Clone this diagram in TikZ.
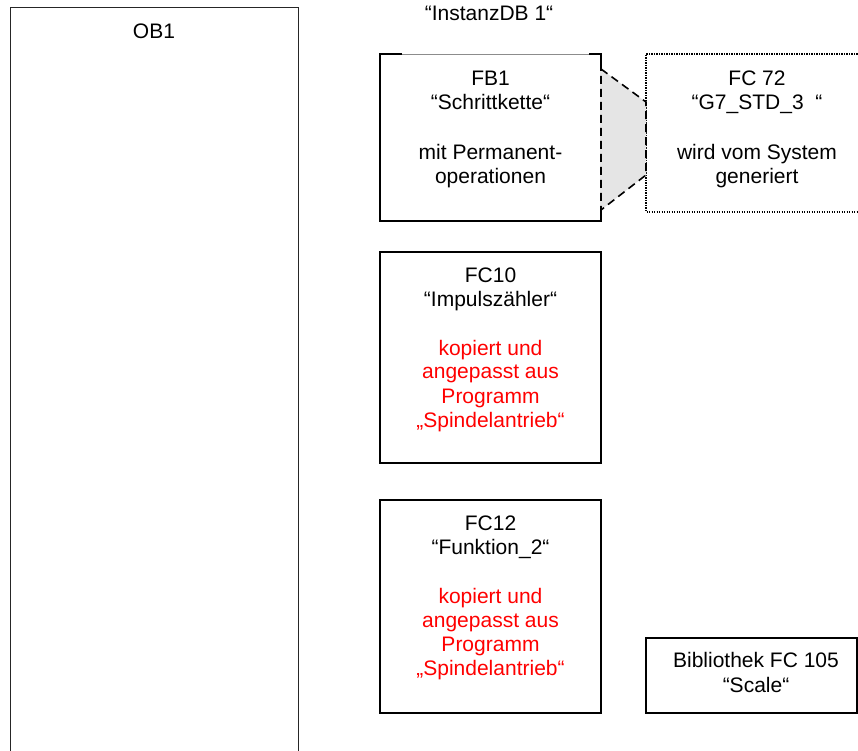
\documentclass[tikz,border=0pt]{standalone}
\usepackage{fontspec}
\setmainfont{Liberation Sans}
\begin{document}
\begin{tikzpicture}[x=1pt,y=-1pt,
  lbl/.style={anchor=base, inner sep=0pt, font=\fontsize{21}{24}\selectfont},
  redlbl/.style={lbl, text=red},
  boxshape/.style={minimum width=#1, inner sep=0pt, outer sep=0pt},
  boxline/.style={draw=black, line width=1.5pt},
  dashline/.style={draw=black, line width=1.6pt, dash pattern=on 8pt off 5pt},
  dotline/.style={draw=black, line width=1.1pt, dash pattern=on 1.2pt off 1.3pt},
]
\useasboundingbox (0,0) rectangle (858,751);
\fill[white] (0,0) rectangle (858,751);

% OB1 (runs past the bottom edge)
\coordinate (ob1bl) at (10,765);
\coordinate (ob1tl) at (10,8);
\coordinate (ob1tr) at (298,8);
\coordinate (ob1br) at (298,765);
\draw[line width=1pt, black!85] (ob1bl) -- (ob1tl) -- (ob1tr) -- (ob1br);
\node[lbl] (ob1t) at (154,39) {OB1};

% InstanzDB label
\node[lbl] (inst) at (489,21) {“InstanzDB 1“};

% FB1
\node[boxshape=221pt, minimum height=167pt] (fb1) at (490.5,137.5) {};
\coordinate (fb1a) at ([xshift=22pt]fb1.north west);
\coordinate (fb1b) at ([xshift=-12pt]fb1.north east);
\draw[line width=0.6pt, black!45] (fb1a) -- (fb1b);
\draw[boxline] (fb1a) -- (fb1.north west) -- (fb1.south west) -- (fb1.south east) -- (fb1.north east) -- (fb1b);
\node[lbl] (fb1l1) at (490.5,86) {FB1};
\node[lbl] (fb1l2) at (490.5,109.5) {“Schrittkette“};
\node[lbl] (fb1l3) at (490.5,160) {mit Permanent-};
\node[lbl] (fb1l4) at (490.5,183.5) {operationen};

% FC72 (dotted, runs past the right edge)
\coordinate (fc72tr) at (870,54);
\coordinate (fc72tl) at (646,54);
\coordinate (fc72bl) at (646,212);
\coordinate (fc72br) at (870,212);
\draw[dotline] (fc72tr) -- (fc72tl) -- (fc72bl) -- (fc72br);
\node[lbl] (fc72l1) at (757,86) {FC 72};
\node[lbl] (fc72l2) at (757,109.5) {“G7\_STD\_3\ \ “};
\node[lbl] (fc72l3) at (757,160) {wird vom System};
\node[lbl] (fc72l4) at (757,183.5) {generiert};

% connecting trapezoid
\coordinate (t1) at (601,69);
\coordinate (t2) at (646,102);
\coordinate (t3) at (646,175);
\coordinate (t4) at (601,210);
\fill[black!10] (t1) -- (t2) -- (t3) -- (t4) -- cycle;
\draw[line width=1.6pt, black!10] (t1) -- (t4);
\draw[dashline] (t1) -- (t2) -- (t3) -- (t4) -- cycle;

% FC10
\node[boxshape=221pt, minimum height=211pt, boxline] (fc10) at (490.5,357.5) {};
\node[lbl] (fc10l1) at (490.5,282) {FC10};
\node[lbl] (fc10l2) at (490.5,306.5) {“Impulszähler“};
\node[redlbl] (fc10l3) at (490.5,355) {kopiert und};
\node[redlbl] (fc10l4) at (490.5,378.5) {angepasst aus};
\node[redlbl] (fc10l5) at (490.5,403) {Programm};
\node[redlbl] (fc10l6) at (490.5,427) {„Spindelantrieb“};

% FC12
\node[boxshape=221pt, minimum height=213pt, boxline] (fc12) at (490.5,606.5) {};
\node[lbl] (fc12l1) at (490.5,530.5) {FC12};
\node[lbl] (fc12l2) at (490.5,554.5) {“Funktion\_2“};
\node[redlbl] (fc12l3) at (490.5,603) {kopiert und};
\node[redlbl] (fc12l4) at (490.5,627) {angepasst aus};
\node[redlbl] (fc12l5) at (490.5,651.5) {Programm};
\node[redlbl] (fc12l6) at (490.5,675.5) {„Spindelantrieb“};

% Bibliothek
\node[boxshape=211pt, minimum height=75pt, boxline] (bib) at (751.5,675.5) {};
\node[lbl] (bibl1) at (756,667) {Bibliothek FC 105};
\node[lbl] (bibl2) at (756,692) {“Scale“};
\end{tikzpicture}
\end{document}
